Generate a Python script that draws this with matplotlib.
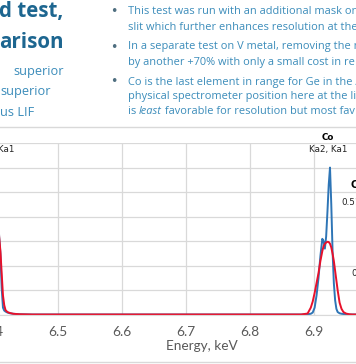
import matplotlib.pyplot as plt
from matplotlib.lines import Line2D

# spectrum data (energy in keV, normalised intensity)
energy = [6.406, 6.408, 6.410, 6.412, 6.414, 6.416, 6.418, 6.421, 6.425, 6.430,
          6.440, 6.460, 6.500, 6.600, 6.700, 6.800, 6.860, 6.880, 6.890, 6.895,
          6.898, 6.901, 6.904, 6.907, 6.910, 6.913, 6.915, 6.917, 6.919, 6.921,
          6.923, 6.925, 6.927, 6.929, 6.931, 6.933, 6.935, 6.937, 6.940, 6.943,
          6.946, 6.950, 6.955, 6.960, 6.970]
blue_counts = [0.45, 0.32, 0.25, 0.11, 0.03, 0.018, 0.014, 0.010, 0.007, 0.005,
               0.003, 0.002, 0.002, 0.002, 0.002, 0.002, 0.002, 0.002, 0.003, 0.005,
               0.010, 0.030, 0.080, 0.150, 0.240, 0.310, 0.300, 0.270, 0.320, 0.420,
               0.530, 0.600, 0.450, 0.260, 0.130, 0.060, 0.025, 0.012, 0.007, 0.005,
               0.004, 0.003, 0.002, 0.002, 0.002]
red_counts = [0.40, 0.32, 0.26, 0.17, 0.08, 0.04, 0.02, 0.012, 0.008, 0.005,
              0.003, 0.002, 0.002, 0.002, 0.002, 0.002, 0.002, 0.002, 0.006, 0.030,
              0.055, 0.090, 0.130, 0.170, 0.220, 0.260, 0.280, 0.290, 0.295, 0.298,
              0.297, 0.290, 0.275, 0.250, 0.220, 0.180, 0.140, 0.100, 0.050, 0.025,
              0.012, 0.006, 0.003, 0.002, 0.002]
x_ticks = [6.4, 6.5, 6.6, 6.7, 6.8, 6.9, 7.0]

title_lines = ["d test,", "arison"]
left_lines = ["superior", "superior", "us LIF"]

TITLE = "#1d6690"
BODY = "#3b8cba"
BULLET = "#4f6f80"
GRID = "#d9d9d9"
TICK = "#595959"

W, H = 356, 364
fig = plt.figure(figsize=(W / 100, H / 100), dpi=100)
fig.patch.set_facecolor("white")
renderer = fig.canvas.get_renderer()


def fx(px):
    return px / W


def fy(py):
    return 1 - py / H


# slide text above the chart
for py, txt in zip([12, 42], title_lines):
    fig.text(fx(-1), fy(py), txt, fontsize=14.8, fontweight="bold",
             color=TITLE, family="Open Sans", va="center")
for (px, py), txt in zip([(13, 72), (0, 92), (0, 113)], left_lines):
    fig.text(fx(px), fy(py), txt, fontsize=9.2, color=BODY,
             family="Open Sans", va="center")

BODY_SIZE = 7.95
bullets = [
    (12, [("This test was run with an additional mask on", "normal")], True),
    (27, [("slit which further enhances resolution at the", "normal")], False),
    (47, [("In a separate test on V metal, removing the m", "normal")], True),
    (62, [("by another +70% with only a small cost in re", "normal")], False),
    (82, [("Co is the last element in range for Ge in the A", "normal")], True),
    (97, [("physical spectrometer position here at the li", "normal")], False),
    (112, [("is ", "normal"), ("least", "italic"),
           (" favorable for resolution but most fav", "normal")], False),
]
for py, parts, dot in bullets:
    if dot:
        fig.text(fx(110), fy(py), "\u2022", fontsize=9, color=BULLET,
                 family="DejaVu Sans", va="center")
    px = 128
    for txt, st in parts:
        t = fig.text(fx(px), fy(py), txt, fontsize=BODY_SIZE, color=BODY,
                     style=st, family="Open Sans", va="center")
        px += t.get_window_extent(renderer).width

# chart area borders
fig.add_artist(Line2D([0, 1], [fy(127), fy(127)], color=GRID, lw=1))
fig.add_artist(Line2D([0, 1], [fy(362), fy(362)], color=GRID, lw=1))

# plot area: 6.4 keV sits just left of the crop
x0, x1 = 6.4, 7.05
left_px = -6
width_px = (x1 - x0) * 640
ax = fig.add_axes([fx(left_px), fy(315), width_px / W, (315 - 143) / H])
ax.set_xlim(x0, x1)
ax.set_ylim(0, 0.7)
ax.set_xticks(x_ticks)
ax.set_xticklabels([f"{v:.1f}" for v in x_ticks])
ax.set_yticks([0.1 * i for i in range(8)])
ax.tick_params(axis="y", left=False, labelleft=False)
ax.tick_params(axis="x", length=0, pad=8, labelsize=9.8, labelcolor=TICK)
for lab in ax.get_xticklabels():
    lab.set_family("Lato")
ax.grid(True, color=GRID, lw=0.9)
ax.set_axisbelow(True)
for s in ["top", "right", "left"]:
    ax.spines[s].set_visible(False)
ax.spines["bottom"].set_color(GRID)

ax.plot(energy, blue_counts, color="#2e75b6", lw=1.4)
ax.plot(energy, red_counts, color="#e8102a", lw=1.4)

ax.set_xlabel("Energy, keV", fontsize=9.8, color=TICK, family="Lato", labelpad=1)

# peak labels
ax.text(6.922, 0.724, "Co", fontsize=6.3, fontweight="bold", ha="center",
        va="center", family="DejaVu Sans", clip_on=False)
ax.text(6.922, 0.675, "Ka2, Ka1", fontsize=6.3, ha="center", va="center",
        family="DejaVu Sans", color="#222222", clip_on=False)
ax.text(6.4023, 0.675, "Ka2, Ka1", fontsize=6.3, ha="center", va="center",
        family="DejaVu Sans", color="#222222", clip_on=False)
ax.text(6.9563, 0.528, "C", fontsize=7, fontweight="bold", ha="left",
        va="center", family="DejaVu Sans", clip_on=False)
ax.text(6.9422, 0.459, "0.51", fontsize=6.3, ha="left", va="center",
        family="DejaVu Sans", color="#222222", clip_on=False)
ax.text(6.9578, 0.167, "0", fontsize=6.3, ha="left", va="center",
        family="DejaVu Sans", color="#222222", clip_on=False)

fig.savefig("out.png", dpi=100)
